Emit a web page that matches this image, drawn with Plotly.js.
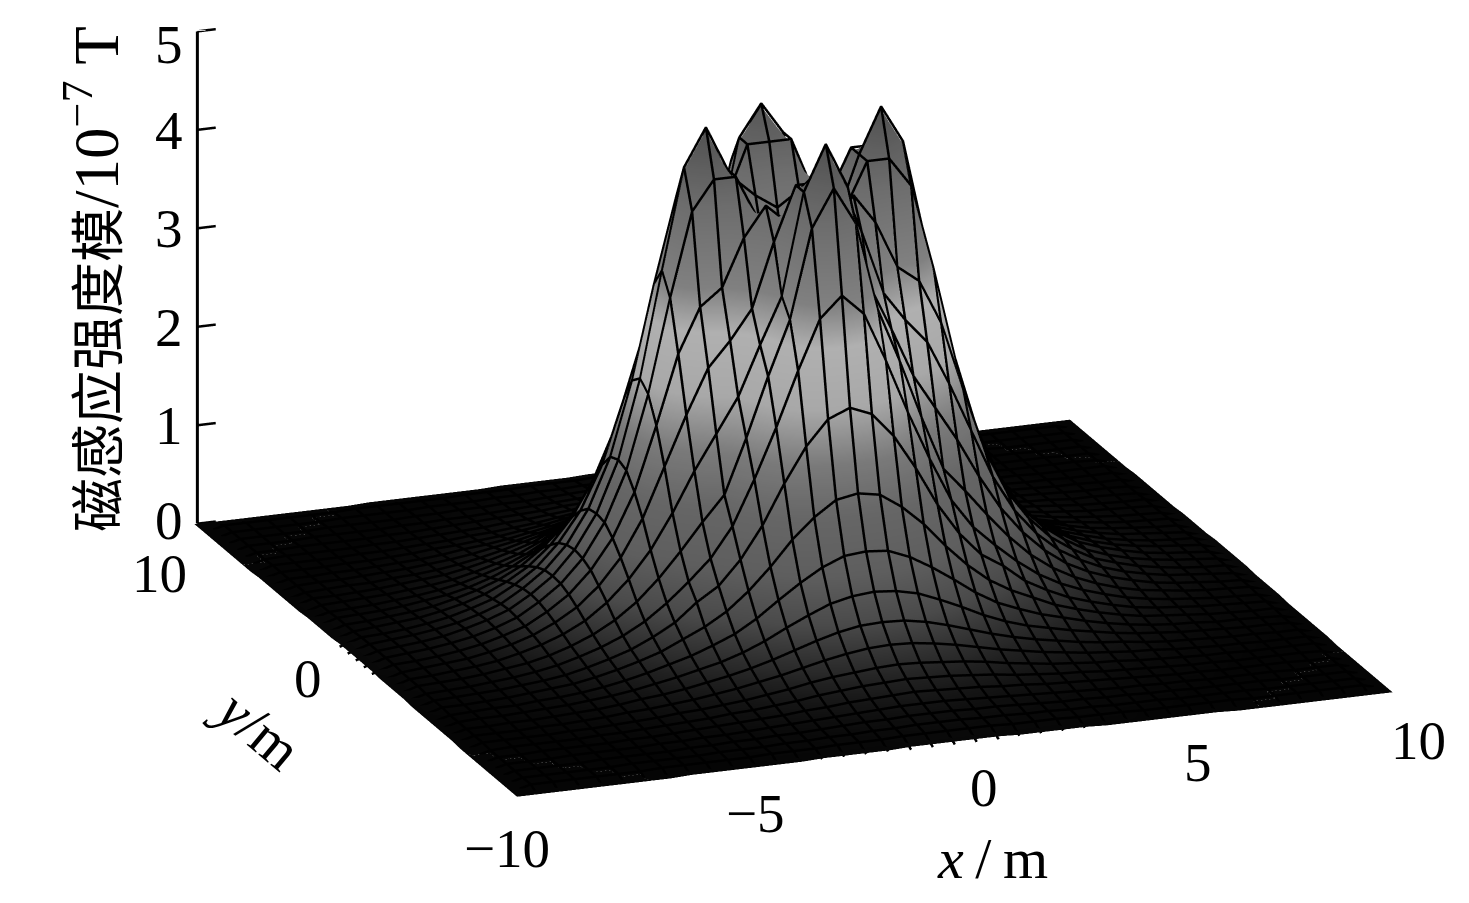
<!DOCTYPE html>
<html><head><meta charset="utf-8">
<script src="https://cdn.plot.ly/plotly-3.0.1.min.js"></script>
<style>html,body{margin:0;padding:0;background:#fff}#c{width:1469px;height:903px}</style></head>
<body><div id="c"></div>
<script>
// Grid coordinates along one axis from the centre outwards (m)
const half = [0,0.5,1,1.5,2,2.5,3,3.5,4,4.5,5,5.5,6,6.5,7,7.5,8,8.5,9,9.5,10];
// Magnetic induction modulus (1e-7 T), one quadrant (rows |y|, columns |x|)
const q = [
[3.0,3.3,3.9,4.5,4.96,4.58,3.56,2.49,1.69,1.17,.83,.59,.43,.30,.22,.16,.11,.08,.06,.04,.03],
[3.3,3.6,4.05,4.5,4.5,4.2,3.35,2.4,1.65,1.15,.81,.58,.42,.29,.21,.15,.11,.08,.06,.04,.03],
[3.9,4.05,4.25,3.95,3.47,3.3,2.85,2.15,1.5,1.06,.76,.54,.39,.27,.2,.14,.1,.07,.05,.04,.03],
[4.5,4.5,3.95,3.3,3.0,2.75,2.3,1.8,1.3,.93,.67,.48,.35,.25,.18,.13,.09,.07,.05,.03,.02],
[4.96,4.5,3.47,3.0,2.5,2.15,1.8,1.4,1.05,.78,.57,.41,.3,.22,.16,.11,.08,.06,.04,.03,.02],
[4.58,4.2,3.3,2.75,2.15,1.6,1.35,1.08,.83,.62,.46,.34,.25,.18,.13,.1,.07,.05,.04,.03,.02],
[3.56,3.35,2.85,2.3,1.8,1.35,1.05,.84,.65,.49,.37,.28,.21,.15,.11,.08,.06,.04,.03,.02,.02],
[2.49,2.4,2.15,1.8,1.4,1.08,.84,.7,.52,.4,.3,.23,.17,.12,.09,.07,.05,.04,.03,.02,.01],
[1.69,1.65,1.5,1.3,1.05,.83,.65,.52,.42,.32,.25,.19,.14,.1,.08,.06,.04,.03,.02,.02,.01],
[1.17,1.15,1.06,.93,.78,.62,.49,.4,.32,.26,.2,.15,.11,.08,.06,.05,.03,.03,.02,.01,.01],
[.83,.81,.76,.67,.57,.46,.37,.3,.25,.2,.16,.12,.09,.07,.05,.04,.03,.02,.02,.01,.01],
[.59,.58,.54,.48,.41,.34,.28,.23,.19,.15,.12,.1,.07,.05,.04,.03,.02,.02,.01,.01,.01],
[.43,.42,.39,.35,.3,.25,.21,.17,.14,.11,.09,.07,.06,.04,.03,.02,.02,.01,.01,.01,.01],
[.30,.29,.27,.25,.22,.18,.15,.12,.1,.08,.07,.05,.04,.03,.02,.02,.01,.01,.01,.01,0],
[.22,.21,.2,.18,.16,.13,.11,.09,.08,.06,.05,.04,.03,.02,.02,.01,.01,.01,.01,0,0],
[.16,.15,.14,.13,.11,.1,.08,.07,.06,.05,.04,.03,.02,.02,.01,.01,.01,.01,0,0,0],
[.11,.11,.1,.09,.08,.07,.06,.05,.04,.03,.03,.02,.02,.01,.01,.01,.01,0,0,0,0],
[.08,.08,.07,.07,.06,.05,.04,.04,.03,.03,.02,.02,.01,.01,.01,.01,0,0,0,0,0],
[.06,.06,.05,.05,.04,.04,.03,.03,.02,.02,.02,.01,.01,.01,.01,0,0,0,0,0,0],
[.04,.04,.04,.03,.03,.03,.02,.02,.02,.01,.01,.01,.01,.01,0,0,0,0,0,0,0],
[.03,.03,.03,.02,.02,.02,.02,.01,.01,.01,.01,.01,.01,0,0,0,0,0,0,0,0]
];
const backPeak = 4.82; // the peak at (0, 2) stands a little lower than the other three
const xTickVals=[-10,-5,0,5,10], xTickText=['−10','−5','0','5','10'];
const yTickVals=[10,0], yTickText=['10','0'];
const zTickVals=[0,1,2,3,4,5], zTickText=['0','1','2','3','4','5'];

// The field is mirror-symmetric in x and y: unfold the quadrant onto the whole grid
const axis = half.slice(1).reverse().map(v=>-v).concat(half);
const idx = v => half.indexOf(Math.abs(v));
const z = axis.map(y => axis.map(x => q[idx(y)][idx(x)]));
z[axis.indexOf(2)][axis.indexOf(0)] = backPeak;

const serif = '"Liberation Serif","Noto Sans CJK SC",serif';
const tf = {family:serif,size:55,color:'#000'};
const base = {showbackground:false,showgrid:false,zeroline:false,showspikes:false,autorange:false,
  showticklabels:false,tickmode:'array',title:{text:''},showline:false,ticks:''};
const surface = {type:'surface',x:axis,y:axis,z:z,showscale:false,hoverinfo:'skip',cmin:0,cmax:5,
  colorscale:[[0,'#050505'],[0.02,'#121212'],[0.06,'#2a2a2a'],[0.12,'#4a4a4a'],[0.2,'#5e5e5e'],[0.3,'#666666'],[0.4,'#7a7a7a'],[0.5,'#a8a8a8'],[0.62,'#b0b0b0'],[0.7,'#808080'],[0.86,'#6c6c6c'],[1,'#505050']],
  lighting:{ambient:1,diffuse:0,specular:0,roughness:1,fresnel:0},
  contours:{x:{show:false,highlight:false},y:{show:false,highlight:false},z:{show:false,highlight:false}}};

// Mesh wires along the same grid values, raised a hair so they sit on top of the surface.
// The wires come down to the surface at the border, so nothing pokes out past the flat edge.
const lift = 0.03;
const wireZ = (i,j) => z[j][i] + ((i===0||j===0||i===axis.length-1||j===axis.length-1) ? -0.03 : lift);
const mx=[],my=[],mz=[];
axis.forEach((y,j)=>{ if(Math.abs(y)===10) return; axis.forEach((x,i)=>{mx.push(x);my.push(y);mz.push(wireZ(i,j));});mx.push(null);my.push(null);mz.push(null);});
axis.forEach((x,i)=>{ if(Math.abs(x)===10) return; axis.forEach((y,j)=>{mx.push(x);my.push(y);mz.push(wireZ(i,j));});mx.push(null);my.push(null);mz.push(null);});
const mesh = {type:'scatter3d',mode:'lines',x:mx,y:my,z:mz,hoverinfo:'skip',showlegend:false,line:{color:'#000',width:5}};

// z axis with its ticks at the back-left corner
const axisX = -9.93, tickRun = 0.42;
const ax = {type:'scatter3d',mode:'lines',x:[axisX,axisX],y:[10,10],z:[0,5],hoverinfo:'skip',showlegend:false,line:{color:'#000',width:6}};
const tx=[],ty=[],tz=[];
zTickVals.forEach(v=>{tx.push(axisX,axisX+tickRun,null);ty.push(10,10,null);tz.push(v,v,null);});
const ticks = {type:'scatter3d',mode:'lines',x:tx,y:ty,z:tz,hoverinfo:'skip',showlegend:false,line:{color:'#000',width:5}};

const xShift=[-10,20,29,24,26], xDrop=[52,43,43,44,48];
const yShift=[-34,-47], yDrop=[49,18];
const zDrop=[-4,0,0,0,0,13];
const c3 = {showarrow:false,font:tf,xanchor:'center',yanchor:'middle'};
const sceneNotes = [
  ...xTickVals.map((v,i)=>({...c3,x:v,y:-10,z:0,text:xTickText[i],xshift:xShift[i],yshift:-xDrop[i]})),
  ...yTickVals.map((v,i)=>({...c3,x:-10,y:v,z:0,text:yTickText[i],xshift:yShift[i],yshift:-yDrop[i]})),
  ...zTickVals.map((v,i)=>({...c3,x:-10,y:10,z:v,text:zTickText[i],xshift:-25,yshift:-zDrop[i]}))
];
const p = {xref:'paper',yref:'paper',showarrow:false,xanchor:'center',yanchor:'middle'};
const layout = {width:1469,height:903,margin:{l:0,r:0,t:0,b:0},paper_bgcolor:'#fff',showlegend:false,
  scene:{domain:{x:[0.08,1],y:[0,1]},dragmode:false,
    aspectmode:'manual',aspectratio:{x:2.072,y:2.032,z:1.15},
    camera:{projection:{type:'orthographic'},up:{x:0,y:0,z:1},center:{x:0,y:0,z:-0.209},eye:{x:-0.667,y:-1.775,z:0.426}},
    xaxis:{...base,range:[-10,10],tickvals:xTickVals},
    yaxis:{...base,range:[-10,10],tickvals:yTickVals},
    zaxis:{...base,range:[0,5],tickvals:zTickVals},
    annotations:sceneNotes
  },
  annotations:[
    {...p,x:92/1469,y:1-279/903,textangle:-90,text:'<span style="font-size:54px">磁感应强度模</span>/10<sup>−7</sup> T',font:{family:serif,size:63,color:'#000'}},
    {...p,x:992/1469,y:1-858/903,text:'<i>x</i>\u2009/\u2009m',font:{family:serif,size:58,color:'#000'}},
    {...p,x:258/1469,y:1-728/903,textangle:40,text:'<i>y</i>/m',font:{family:serif,size:58,color:'#000'}}
  ]};
Plotly.newPlot('c',[surface,mesh,ax,ticks],layout,{displayModeBar:false});
</script></body></html>
